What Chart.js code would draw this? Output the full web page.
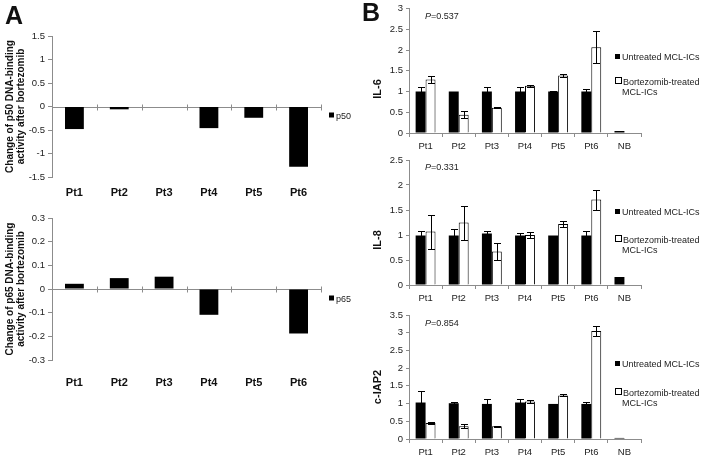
<!DOCTYPE html>
<html>
<head>
<meta charset="utf-8">
<script src="https://cdn.jsdelivr.net/npm/chart.js@4.4.1/dist/chart.umd.min.js"></script>
<style>
  body { margin: 0; background: #fff; font-family: "Liberation Sans", Arial, sans-serif; }
  #fig { position: relative; width: 704px; height: 459px; overflow: hidden; }
  canvas { position: absolute; }
  .lbl { position: absolute; white-space: nowrap; color: #111; transform: translateY(-50%); }
  .panel { font-weight: bold; font-size: 25px; line-height: 25px; }
  .ytitle { position: absolute; white-space: nowrap; color: #111; font-weight: bold; font-size: 11px;
            transform: translate(-50%, -50%) rotate(-90deg); }
  .leg { font-size: 9px; line-height: 10px; color: #222; }
  .legA { font-size: 9px; line-height: 9px; color: #222; }
  .sq { display: inline-block; width: 5px; height: 5px; background: #000; margin-right: 2px; vertical-align: 1px; }
  .sq.open { background: #fff; border: 1px solid #000; width: 5px; height: 5px; margin-right: 1px; }
  .pval { font-size: 9px; color: #222; }
</style>
</head>
<body>
<div id="fig">
  <canvas id="chartP50" width="330" height="200" style="left:0;top:0"></canvas>
  <canvas id="chartP65" width="330" height="200" style="left:0;top:200px"></canvas>
  <canvas id="chartIL6" width="344" height="155" style="left:360px;top:0"></canvas>
  <canvas id="chartIL8" width="344" height="160" style="left:360px;top:150px"></canvas>
  <canvas id="chartCIAP2" width="344" height="154" style="left:360px;top:305px"></canvas>

  <div class="lbl panel" style="left:5px;top:15px">A</div>
  <div class="lbl panel" style="left:362px;top:12px">B</div>

  <div class="lbl legA" style="left:329px;top:116px"><span class="sq"></span>p50</div>
  <div class="lbl legA" style="left:329px;top:299px"><span class="sq"></span>p65</div>

  <div class="ytitle" style="left:377px;top:89px">IL-6</div>
  <div class="ytitle" style="left:377px;top:240px">IL-8</div>
  <div class="ytitle" style="left:377px;top:387px">c-IAP2</div>

  <div class="lbl pval" style="left:425px;top:16px"><i>P</i>=0.537</div>
  <div class="lbl pval" style="left:425px;top:167px"><i>P</i>=0.331</div>
  <div class="lbl pval" style="left:425px;top:323px"><i>P</i>=0.854</div>

  <div class="lbl leg" style="left:615px;top:57px"><span class="sq"></span>Untreated MCL-ICs</div>
  <div class="lbl leg" style="left:615px;top:82px"><span class="sq open"></span>Bortezomib-treated</div>
  <div class="lbl leg" style="left:622px;top:92px">MCL-ICs</div>

  <div class="lbl leg" style="left:615px;top:212px"><span class="sq"></span>Untreated MCL-ICs</div>
  <div class="lbl leg" style="left:615px;top:240px"><span class="sq open"></span>Bortezomib-treated</div>
  <div class="lbl leg" style="left:622px;top:250px">MCL-ICs</div>

  <div class="lbl leg" style="left:615px;top:364px"><span class="sq"></span>Untreated MCL-ICs</div>
  <div class="lbl leg" style="left:615px;top:393px"><span class="sq open"></span>Bortezomib-treated</div>
  <div class="lbl leg" style="left:622px;top:403px">MCL-ICs</div>
</div>

<script>
// categories
const patients = ['Pt1', 'Pt2', 'Pt3', 'Pt4', 'Pt5', 'Pt6'];
const geneGroups = ['Pt1', 'Pt2', 'Pt3', 'Pt4', 'Pt5', 'Pt6', 'NB'];

// panel A: change of DNA-binding activity after bortezomib
const p50Change = [-0.48, -0.06, 0, -0.46, -0.24, -1.28];
const p65Change = [0.022, 0.046, 0.052, -0.109, 0, -0.188];

// panel B: relative expression (mean and error)
const il6Untreated    = [1.0, 1.0, 1.0, 1.0, 1.0, 1.0, 0.05];
const il6UntreatedErr = [0.1, 0, 0.1, 0.1, 0.01, 0.05, 0];
const il6Treated      = [1.29, 0.44, 0.61, 1.14, 1.39, 2.07, 0];
const il6TreatedErr   = [0.08, 0.09, 0.01, 0.03, 0.03, 0.38, 0];

const il8Untreated    = [0.99, 0.99, 1.03, 0.99, 0.99, 0.99, 0.16];
const il8UntreatedErr = [0.1, 0.14, 0.06, 0.06, 0, 0.1, 0];
const il8Treated      = [1.07, 1.25, 0.67, 1.0, 1.22, 1.71, 0];
const il8TreatedErr   = [0.34, 0.34, 0.17, 0.06, 0.06, 0.2, 0];

const ciap2Untreated    = [1.03, 1.01, 0.99, 1.03, 0.99, 0.99, 0.03];
const ciap2UntreatedErr = [0.32, 0.04, 0.15, 0.11, 0, 0.05, 0];
const ciap2Treated      = [0.45, 0.36, 0.36, 1.06, 1.23, 3.05, 0];
const ciap2TreatedErr   = [0.03, 0.06, 0.01, 0.05, 0.03, 0.15, 0];

const AXIS_GREY = '#8c8c8c';
Chart.defaults.font.family = '"Liberation Sans", Arial, sans-serif';
Chart.defaults.animation = false;

const tickFmt = v => String(+v.toFixed(2));

// horizontal axis line at zero with cross tick marks (Excel style)
const zeroAxis = {
    id: 'zeroAxis',
    beforeDatasetsDraw(chart) {
        const { ctx, scales: { x, y } } = chart;
        const y0 = Math.round(y.getPixelForValue(0)) + 0.5;
        ctx.save();
        ctx.strokeStyle = AXIS_GREY;
        ctx.lineWidth = 1;
        ctx.beginPath();
        ctx.moveTo(x.left, y0);
        ctx.lineTo(x.right, y0);
        for (let i = 0; i < chart.data.labels.length; i++) {
            const bx = Math.round(x.getPixelForValue(i + 0.5)) + 0.5;
            ctx.moveTo(bx, y0 - 3);
            ctx.lineTo(bx, y0 + 3);
        }
        ctx.stroke();
        ctx.restore();
    }
};

// error bars read from dataset.errors
const errorBars = {
    id: 'errorBars',
    afterDatasetsDraw(chart) {
        const { ctx } = chart;
        const y = chart.scales.y;
        ctx.save();
        ctx.strokeStyle = '#000';
        ctx.lineWidth = 1;
        chart.data.datasets.forEach((ds, di) => {
            if (!ds.errors) return;
            chart.getDatasetMeta(di).data.forEach((bar, i) => {
                const e = ds.errors[i];
                if (!e) return;
                const v = ds.data[i];
                const top = Math.round(y.getPixelForValue(v + e)) + 0.5;
                const bot = Math.round(y.getPixelForValue(v - e)) + 0.5;
                const cx = Math.round(bar.x) + 0.5;
                ctx.beginPath();
                ctx.moveTo(cx, top); ctx.lineTo(cx, bot);
                ctx.moveTo(cx - 3.5, top); ctx.lineTo(cx + 3.5, top);
                ctx.moveTo(cx - 3.5, bot); ctx.lineTo(cx + 3.5, bot);
                ctx.stroke();
            });
        });
        ctx.restore();
    }
};

function makeChangeChart(id, values, yMin, yMax, step, title, pad, axisH, labelPad) {
    new Chart(document.getElementById(id), {
        type: 'bar',
        data: {
            labels: patients,
            datasets: [{ data: values, backgroundColor: '#000', categoryPercentage: 1, barPercentage: 0.42 }]
        },
        options: {
            responsive: false,
            layout: { padding: pad },
            plugins: { legend: { display: false }, tooltip: { enabled: false } },
            scales: {
                x: {
                    grid: { display: false },
                    border: { display: false },
                    ticks: { padding: labelPad, color: '#111', font: { size: 11, weight: 'bold' } },
                    afterFit: s => { s.height = axisH; }
                },
                y: {
                    min: yMin, max: yMax,
                    ticks: { stepSize: step, padding: 3, color: '#222', font: { size: 9.5 }, callback: tickFmt },
                    grid: { drawOnChartArea: false, tickLength: 4, color: AXIS_GREY },
                    border: { color: AXIS_GREY },
                    title: { display: true, text: title, padding: 0, color: '#111',
                             font: { size: 10, weight: 'bold', lineHeight: 1.1 } },
                    afterFit: s => { s.width = 52 - pad.left; }
                }
            }
        },
        plugins: [zeroAxis]
    });
}

function makeExprChart(id, untreated, untreatedErr, treated, treatedErr, yMax, pad, axisH) {
    new Chart(document.getElementById(id), {
        type: 'bar',
        data: {
            labels: geneGroups,
            datasets: [
                { label: 'Untreated MCL-ICs', data: untreated, errors: untreatedErr,
                  backgroundColor: '#000', borderWidth: 0, categoryPercentage: 0.6, barPercentage: 1 },
                { label: 'Bortezomib-treated MCL-ICs', data: treated, errors: treatedErr,
                  backgroundColor: '#fff', borderColor: '#000', borderWidth: 1, categoryPercentage: 0.6, barPercentage: 1 }
            ]
        },
        options: {
            responsive: false,
            layout: { padding: pad },
            plugins: { legend: { display: false }, tooltip: { enabled: false } },
            scales: {
                x: {
                    grid: { offset: true, drawOnChartArea: false, tickLength: 4, color: AXIS_GREY },
                    border: { color: AXIS_GREY },
                    ticks: { padding: 4, color: '#222', font: { size: 9.5 } },
                    afterFit: s => { s.height = axisH; }
                },
                y: {
                    min: 0, max: yMax,
                    ticks: { stepSize: 0.5, padding: 3, color: '#222', font: { size: 9.5 }, callback: tickFmt },
                    grid: { drawOnChartArea: false, tickLength: 3, color: AXIS_GREY },
                    border: { color: AXIS_GREY },
                    afterFit: s => { s.width = 49 - pad.left; }
                }
            }
        },
        plugins: [errorBars]
    });
}

makeChangeChart('chartP50', p50Change, -1.5, 1.5, 0.5,
    ['Change of p50 DNA-binding', 'activity after bortezomib'],
    { left: 5, top: 36, right: 9, bottom: 0 }, 23, 1.5);
makeChangeChart('chartP65', p65Change, -0.3, 0.3, 0.1,
    ['Change of p65 DNA-binding', 'activity after bortezomib'],
    { left: 5, top: 18, right: 9, bottom: 0 }, 40, 8);

makeExprChart('chartIL6', il6Untreated, il6UntreatedErr, il6Treated, il6TreatedErr, 3,
    { left: 10, top: 8, right: 63, bottom: 0 }, 22);
makeExprChart('chartIL8', il8Untreated, il8UntreatedErr, il8Treated, il8TreatedErr, 2.5,
    { left: 10, top: 10, right: 63, bottom: 0 }, 25);
makeExprChart('chartCIAP2', ciap2Untreated, ciap2UntreatedErr, ciap2Treated, ciap2TreatedErr, 3.5,
    { left: 10, top: 10, right: 63, bottom: 0 }, 20);
</script>
</body>
</html>
